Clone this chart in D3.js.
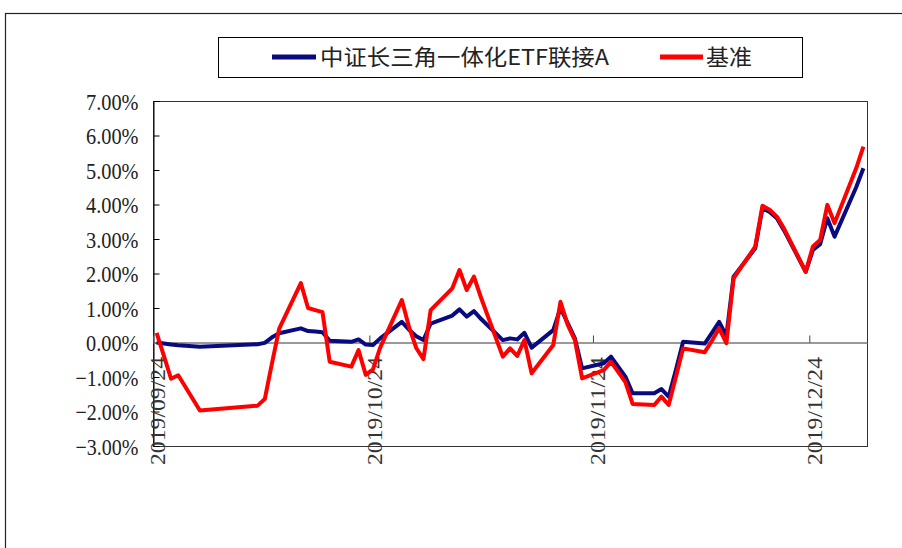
<!DOCTYPE html>
<html>
<head>
<meta charset="utf-8">
<script src="https://cdn.jsdelivr.net/npm/d3@7"></script>
<style>
  html, body { margin: 0; padding: 0; background: #fff; }
  svg { display: block; }
</style>
</head>
<body>
<svg id="chart" width="902" height="548"></svg>
<script>
// ---------- data ----------
const dates = ["2019-09-24","2019-09-25","2019-09-26","2019-09-27","2019-09-30",
  "2019-10-08","2019-10-09","2019-10-10","2019-10-11","2019-10-14","2019-10-15","2019-10-16","2019-10-17","2019-10-18",
  "2019-10-21","2019-10-22","2019-10-23","2019-10-24","2019-10-25","2019-10-28","2019-10-29","2019-10-30","2019-10-31",
  "2019-11-01","2019-11-04","2019-11-05","2019-11-06","2019-11-07","2019-11-08","2019-11-11","2019-11-12","2019-11-13",
  "2019-11-14","2019-11-15","2019-11-18","2019-11-19","2019-11-20","2019-11-21","2019-11-22","2019-11-25","2019-11-26",
  "2019-11-27","2019-11-28","2019-11-29","2019-12-02","2019-12-03","2019-12-04","2019-12-05","2019-12-06","2019-12-09",
  "2019-12-10","2019-12-11","2019-12-12","2019-12-13","2019-12-16","2019-12-17","2019-12-18","2019-12-19","2019-12-20",
  "2019-12-23","2019-12-24","2019-12-25","2019-12-26","2019-12-27","2019-12-30","2019-12-31"];

const fundValues = [0.00,-0.03,-0.06,-0.08,-0.12,
  -0.05,-0.01,0.15,0.27,0.41,0.33,0.32,0.30,0.05,
  0.02,0.09,-0.06,-0.07,0.12,0.60,0.37,0.18,0.07,
  0.55,0.78,0.96,0.75,0.91,0.68,0.07,0.12,0.09,
  0.28,-0.15,0.36,1.00,0.56,0.12,-0.75,-0.60,-0.41,
  -0.70,-0.99,-1.47,-1.47,-1.35,-1.57,-0.80,0.02,-0.03,
  0.28,0.60,0.19,1.91,2.73,3.89,3.78,3.60,3.25,
  2.05,2.68,2.85,3.60,3.07,4.50,5.05];

const benchValues = [0.28,-0.38,-1.05,-0.95,-1.97,
  -1.83,-1.64,-0.60,0.40,1.72,1.00,0.94,0.88,-0.56,
  -0.70,-0.22,-0.94,-0.78,-0.15,1.23,0.45,-0.16,-0.48,
  0.94,1.57,2.10,1.52,1.91,1.29,-0.41,-0.17,-0.39,
  0.07,-0.89,-0.07,1.18,0.51,0.07,-1.04,-0.80,-0.56,
  -0.85,-1.15,-1.78,-1.81,-1.57,-1.81,-1.00,-0.17,-0.28,
  0.05,0.41,-0.02,1.86,2.78,3.96,3.85,3.65,3.30,
  2.05,2.78,2.97,3.99,3.46,5.05,5.68];

const yTicks = [-3,-2,-1,0,1,2,3,4,5,6,7];
const xTickDates = ["2019-09-24","2019-10-24","2019-11-24","2019-12-24"];
const seriesNames = ["中证长三角一体化ETF联接A", "基准"];
const seriesColors = ["#0a0a80", "#ff0000"];

// ---------- layout ----------
const svg = d3.select("#chart");
const plot = { left: 153, right: 867, top: 101, bottom: 446 };
const parse = d3.timeParse("%Y-%m-%d");

const x = d3.scaleTime()
  .domain([parse("2019-09-24"), parse("2020-01-01")])
  .range([plot.left, plot.right]);
const y = d3.scaleLinear().domain([-3, 7]).range([plot.bottom, plot.top]);

const halfDay = 12 * 3600 * 1000;
const pts = (vals) => dates.map((d, i) => ({ t: new Date(parse(d).getTime() + halfDay), v: vals[i] }));

// outer border
svg.append("rect").attr("x", 5.5).attr("y", 13.5).attr("width", 1000).attr("height", 1000)
  .attr("fill", "none").attr("stroke", "#222").attr("stroke-width", 1.2);

// plot frame
svg.append("rect")
  .attr("x", plot.left + 0.5).attr("y", plot.top + 0.5)
  .attr("width", plot.right - plot.left).attr("height", plot.bottom - plot.top)
  .attr("fill", "none").attr("stroke", "#333").attr("stroke-width", 1);

// y axis
const yAxis = svg.append("g")
  .attr("transform", `translate(${plot.left + 0.5},0)`)
  .call(d3.axisLeft(y).tickValues(yTicks).tickSize(-6).tickPadding(15)
    .tickFormat(d => d3.format(".2f")(d) + "%"));
yAxis.select(".domain").attr("stroke", "#000");
yAxis.selectAll(".tick line").attr("stroke", "#000");
yAxis.selectAll(".tick text")
  .attr("font-family", "'Liberation Serif', 'DejaVu Serif', serif")
  .attr("font-size", 23).attr("fill", "#222")
  .attr("dy", "0.35em")
  .attr("textLength", function() { return this.textContent.length * 10.5; })
  .attr("lengthAdjust", "spacingAndGlyphs");

// x axis along zero line
const xAxis = svg.append("g")
  .attr("transform", `translate(0,${y(0)})`)
  .call(d3.axisBottom(x).tickValues(xTickDates.map(parse)).tickSize(-7).tickSizeOuter(0)
    .tickFormat(d3.timeFormat("%Y/%m/%d")));
xAxis.select(".domain").attr("stroke", "#777").attr("stroke-width", 1.6);
xAxis.selectAll(".tick line").attr("stroke", "#444");
xAxis.selectAll(".tick text")
  .attr("font-family", "'Liberation Serif', 'DejaVu Serif', serif")
  .attr("font-size", 22).attr("fill", "#333")
  .attr("text-anchor", "end")
  .attr("transform", "rotate(-90)")
  .attr("x", -(357 - y(0))).attr("y", 4).attr("dy", "0.35em")
  .attr("textLength", 108).attr("lengthAdjust", "spacingAndGlyphs");

// lines
const line = d3.line().x(d => x(d.t)).y(d => y(d.v));
[fundValues, benchValues].forEach((vals, i) => {
  svg.append("path").datum(pts(vals))
    .attr("d", line).attr("fill", "none")
    .attr("stroke", seriesColors[i]).attr("stroke-width", 4)
    .attr("stroke-linejoin", "round");
});

// legend
const lg = svg.append("g");
lg.append("rect").attr("x", 218.5).attr("y", 37.5).attr("width", 584).attr("height", 40)
  .attr("fill", "#fff").attr("stroke", "#000").attr("stroke-width", 1);
const legendItems = [
  { x1: 272, x2: 316, tx: 320, tl: 289 },
  { x1: 660, x2: 703, tx: 706, tl: 46 }
];
legendItems.forEach((it, i) => {
  lg.append("line").attr("x1", it.x1).attr("x2", it.x2).attr("y1", 57).attr("y2", 57)
    .attr("stroke", seriesColors[i]).attr("stroke-width", 5);
  lg.append("text").attr("x", it.tx).attr("y", 57).attr("dy", "0.36em")
    .attr("font-family", "'Noto Sans CJK SC', sans-serif").attr("font-size", 22)
    .attr("fill", "#222")
    .attr("textLength", it.tl).attr("lengthAdjust", "spacingAndGlyphs")
    .text(seriesNames[i]);
});
</script>
</body>
</html>
